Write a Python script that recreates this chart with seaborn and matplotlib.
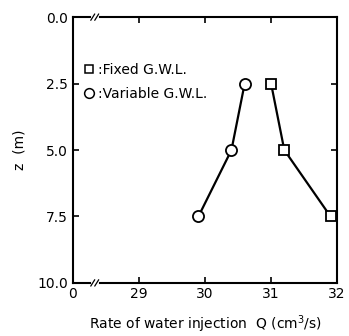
import matplotlib
matplotlib.use("Agg")
import matplotlib.pyplot as plt
import seaborn as sns
import pandas as pd
from matplotlib.lines import Line2D

# Data
depth = [2.5, 5.0, 7.5]
q_fixed = [31.0, 31.2, 31.9]
q_variable = [30.6, 30.4, 29.9]
xtick_pos = [28, 29, 30, 31, 32]      # 28 is the broken-axis position of "0"
xtick_labels = ["0", "29", "30", "31", "32"]
ytick_vals = [0.0, 2.5, 5.0, 7.5, 10.0]
ytick_labels = ["0.0", "2.5", "5.0", "7.5", "10.0"]

df = pd.concat([
    pd.DataFrame({"Q": q_fixed, "z": depth, "series": "Fixed G.W.L."}),
    pd.DataFrame({"Q": q_variable, "z": depth, "series": "Variable G.W.L."}),
])

sns.set_style("ticks")
plt.rcParams['font.family'] = ['DejaVu Sans']
plt.rcParams['text.color'] = 'black'
plt.rcParams['axes.labelcolor'] = 'black'

fig = plt.figure(figsize=(3.49, 3.36), dpi=100)
ax = fig.add_axes([0.209, 0.158, 0.757, 0.791])

sub_f = df[df.series == "Fixed G.W.L."]
sub_v = df[df.series == "Variable G.W.L."]
sns.lineplot(data=sub_f, x="Q", y="z", sort=False, ax=ax, color="black",
             lw=1.6, marker="s", markersize=7, markerfacecolor="white",
             markeredgecolor="black", markeredgewidth=1.3, zorder=3)
sns.lineplot(data=sub_v, x="Q", y="z", sort=False, ax=ax, color="black",
             lw=1.6, marker="o", markersize=8, markerfacecolor="white",
             markeredgecolor="black", markeredgewidth=1.3, zorder=3)

ax.set_xlim(28, 32)
ax.set_ylim(10, 0)
ax.set_xticks(xtick_pos[1:-1])
ax.set_xticklabels(xtick_labels[1:-1])
ax.set_yticks(ytick_vals)
ax.set_yticklabels(ytick_labels)
ax.tick_params(axis="both", direction="in", length=4, width=1.2,
               labelsize=10, colors="black", top=True, right=True)
# labels for 0 and 32 at the edges
ax.text(28, -0.015, "0", transform=ax.get_xaxis_transform(), ha="center",
        va="top", fontsize=10)
ax.text(32, -0.015, "32", transform=ax.get_xaxis_transform(), ha="center",
        va="top", fontsize=10)
ax.tick_params(axis="x", pad=3)
for s in ax.spines.values():
    s.set_linewidth(1.5)
    s.set_color("black")

ax.set_xlabel("Rate of water injection  Q (cm$^3$/s)", fontsize=10, labelpad=9)
ax.set_ylabel("z  (m)", fontsize=10, labelpad=8)

# axis break marks
bx = 28.33
for yy in (0.0, 1.0):
    ax.plot([bx - 0.03, bx + 0.03], [yy, yy], transform=ax.get_xaxis_transform(),
            color="white", lw=3, clip_on=False, zorder=5)
    for dx in (-0.03, 0.03):
        ax.plot([bx + dx - 0.03, bx + dx + 0.03], [yy - 0.012, yy + 0.012],
                transform=ax.get_xaxis_transform(), color="black", lw=0.9,
                clip_on=False, zorder=6)

# legend
handles = [
    Line2D([], [], ls="none", marker="s", markersize=6, markerfacecolor="white",
           markeredgecolor="black", markeredgewidth=1.1),
    Line2D([], [], ls="none", marker="o", markersize=7, markerfacecolor="white",
           markeredgecolor="black", markeredgewidth=1.1),
]
ax.legend(handles, [":Fixed G.W.L.", ":Variable G.W.L."], loc="upper left",
          bbox_to_anchor=(0.02, 0.85), frameon=False, handlelength=0.8,
          handletextpad=0.2, labelspacing=0.75, fontsize=10, borderaxespad=0,
          labelcolor="black")

fig.savefig("out.png", dpi=100)
